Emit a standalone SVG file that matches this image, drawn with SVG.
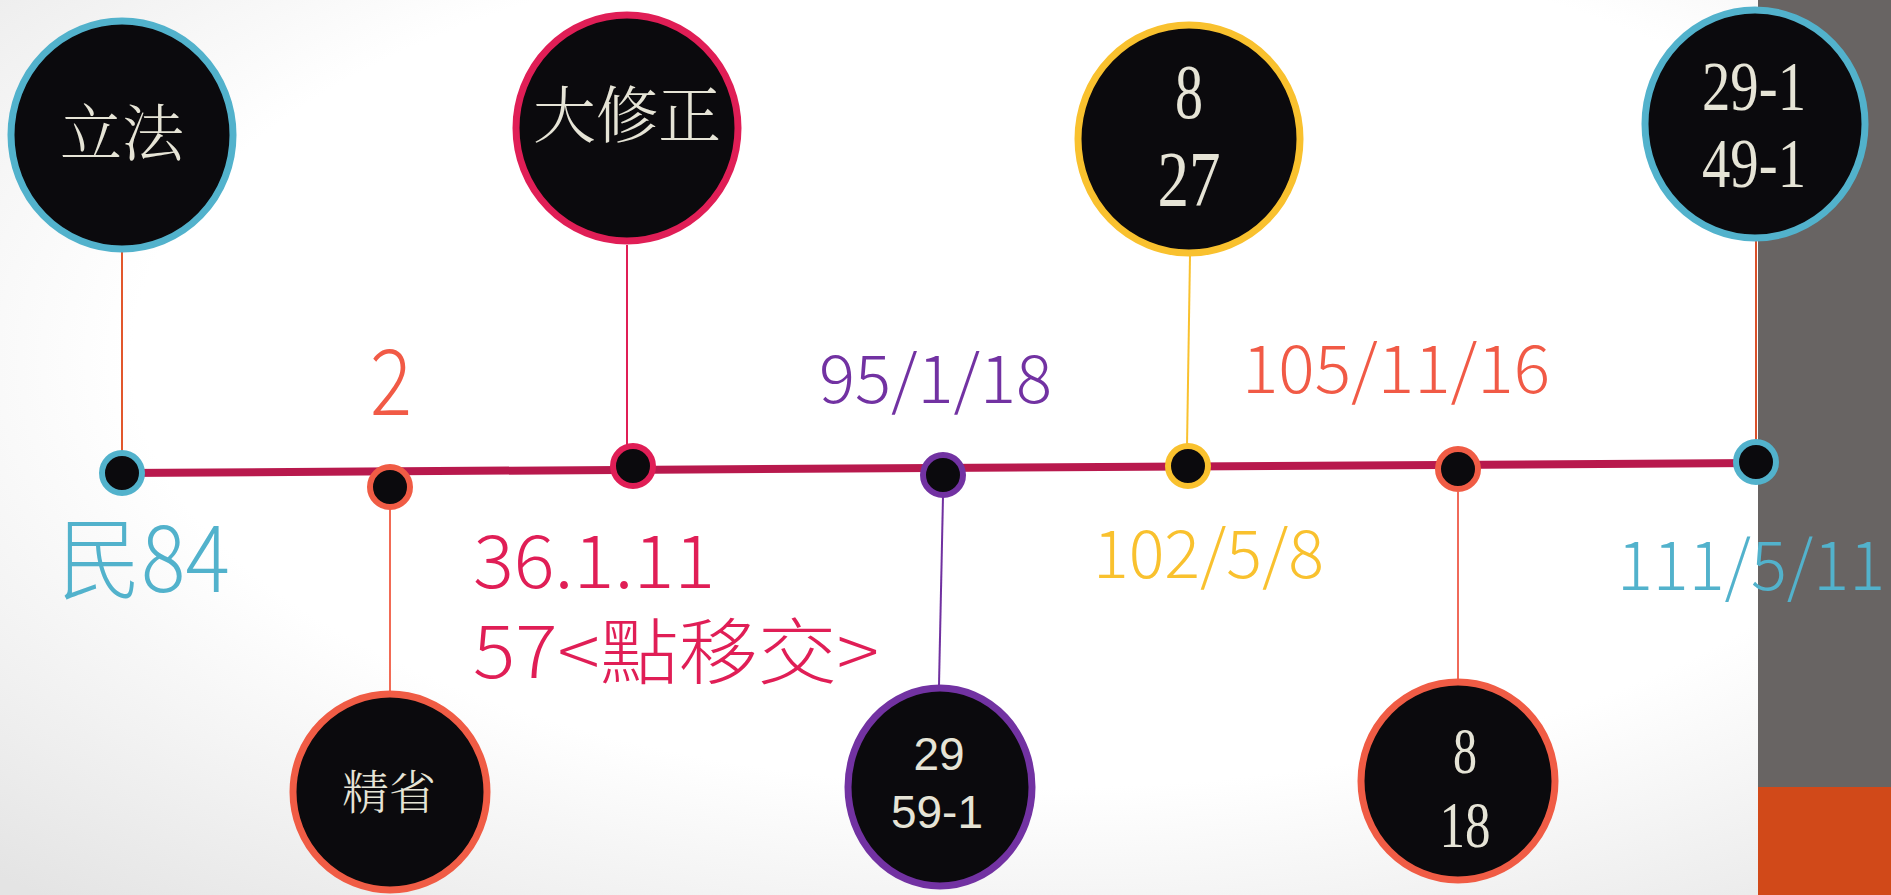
<svg xmlns="http://www.w3.org/2000/svg" width="1891" height="895" viewBox="0 0 1891 895">
<defs>
<radialGradient id="bg" cx="55%" cy="40%" r="80%">
<stop offset="0.6" stop-color="#ffffff"/>
<stop offset="1" stop-color="#e4e4e4"/>
</radialGradient>
<style>
.big{fill:#0b0a0d;stroke-width:7}
.dot{fill:#0b0a0d;stroke-width:6}
.ser{font-family:"Liberation Serif","Noto Serif CJK TC","Noto Sans CJK TC",serif;fill:#e6e4d6;text-anchor:middle}
.cjk{font-weight:300}
.sans{font-family:"Liberation Sans","Noto Sans CJK TC",sans-serif;fill:#e6e4d6;text-anchor:middle}
.lab{font-family:"Noto Sans CJK TC",sans-serif;font-weight:300}
.conn{fill:none;stroke-width:2}
.blue{stroke:#52b2cc}.crim{stroke:#e01e56}.yel{stroke:#f9c12e}.ora{stroke:#f05c45}.pur{stroke:#7232a2}
</style>
</defs>
<rect width="1891" height="895" fill="url(#bg)"/>
<rect x="1758" y="0" width="133" height="787" fill="#686463"/>
<rect x="1758" y="787" width="133" height="108" fill="#d14919"/>

<g id="connectors">
<line class="conn" x1="122" y1="245" x2="122" y2="452" stroke="#e2572c"/>
<line class="conn" x1="627" y1="245" x2="627" y2="446" stroke="#e01e56"/>
<line class="conn" x1="1190" y1="256" x2="1187" y2="446" stroke="#f9c12e"/>
<line class="conn" x1="1756" y1="232" x2="1756" y2="442" stroke="#d9502a"/>
<line class="conn" x1="390" y1="508" x2="390" y2="692" stroke="#f26b55"/>
<line class="conn" x1="943" y1="496" x2="939" y2="685" stroke="#7030a0"/>
<line class="conn" x1="1458" y1="492" x2="1458" y2="679" stroke="#f06a5a"/>
<line x1="122" y1="473" x2="1755" y2="463" stroke="#b8194d" stroke-width="8"/>
</g>

<g id="dot-84"><circle class="dot blue" cx="122" cy="473" r="20"/></g>
<g id="dot-2"><circle class="dot ora" cx="390" cy="487" r="20"/></g>
<g id="dot-36"><circle class="dot crim" cx="633" cy="466" r="20"/></g>
<g id="dot-95"><circle class="dot pur" cx="943" cy="475" r="20"/></g>
<g id="dot-102"><circle class="dot yel" cx="1188" cy="466" r="20"/></g>
<g id="dot-105"><circle class="dot ora" cx="1458" cy="469" r="20"/></g>
<g id="dot-111"><circle class="dot blue" cx="1756" cy="462" r="20"/></g>

<g id="node-lifa">
<ellipse class="big blue" cx="122" cy="135" rx="111" ry="114"/>
<text class="ser cjk" x="122" y="135" font-size="62" dominant-baseline="central" textLength="124" lengthAdjust="spacingAndGlyphs">立法</text>
</g>
<g id="node-daxiuzheng">
<ellipse class="big crim" cx="627" cy="128" rx="111" ry="113"/>
<text class="ser cjk" x="627" y="117" font-size="62" dominant-baseline="central" textLength="188" lengthAdjust="spacingAndGlyphs">大修正</text>
</g>
<g id="node-8-27">
<ellipse class="big yel" cx="1189" cy="139" rx="111" ry="114"/>
<text class="ser" x="1189" y="118" font-size="78" textLength="28" lengthAdjust="spacingAndGlyphs">8</text>
<text class="ser" x="1189" y="205" font-size="78" textLength="63" lengthAdjust="spacingAndGlyphs">27</text>
</g>
<g id="node-29-1">
<ellipse class="big blue" cx="1755" cy="124" rx="110" ry="114"/>
<text class="ser" x="1754" y="110" font-size="70" textLength="104" lengthAdjust="spacingAndGlyphs">29-1</text>
<text class="ser" x="1754" y="187" font-size="70" textLength="104" lengthAdjust="spacingAndGlyphs">49-1</text>
</g>
<g id="node-jingsheng">
<ellipse class="big ora" cx="390" cy="792" rx="97" ry="98"/>
<text class="ser cjk" x="389" y="793" font-size="47" dominant-baseline="central" textLength="94" lengthAdjust="spacingAndGlyphs">精省</text>
</g>
<g id="node-29-59">
<ellipse class="big pur" cx="940" cy="787" rx="92" ry="99"/>
<text class="sans" x="939" y="770" font-size="46">29</text>
<text class="sans" x="937" y="828" font-size="46">59-1</text>
</g>
<g id="node-8-18">
<ellipse class="big ora" cx="1458" cy="781" rx="97" ry="99"/>
<text class="ser" x="1465" y="773" font-size="66" textLength="24" lengthAdjust="spacingAndGlyphs">8</text>
<text class="ser" x="1465" y="847" font-size="66" textLength="51" lengthAdjust="spacingAndGlyphs">18</text>
</g>

<g id="labels">
<text class="lab" x="58" y="592" font-size="90" fill="#52b2cc" textLength="172" lengthAdjust="spacingAndGlyphs">民84</text>
<text class="lab" x="370" y="415" font-size="92" fill="#f15a46" textLength="42" lengthAdjust="spacingAndGlyphs">2</text>
<text class="lab" x="473" y="588" font-size="74" fill="#e01e56" textLength="242" lengthAdjust="spacingAndGlyphs">36.1.11</text>
<text class="lab" x="473" y="678" font-size="72" fill="#e01e56" textLength="406" lengthAdjust="spacingAndGlyphs">57&lt;點移交&gt;</text>
<text class="lab" x="819" y="403" font-size="66" fill="#7232a2" textLength="233" lengthAdjust="spacingAndGlyphs">95/1/18</text>
<text class="lab" x="1093" y="578" font-size="66" fill="#f9c12e" textLength="231" lengthAdjust="spacingAndGlyphs">102/5/8</text>
<text class="lab" x="1242" y="393" font-size="66" fill="#f15a46" textLength="308" lengthAdjust="spacingAndGlyphs">105/11/16</text>
<text class="lab" x="1617" y="590" font-size="68" fill="#52b2cc" textLength="268" lengthAdjust="spacingAndGlyphs">111/5/11</text>
</g>
</svg>
